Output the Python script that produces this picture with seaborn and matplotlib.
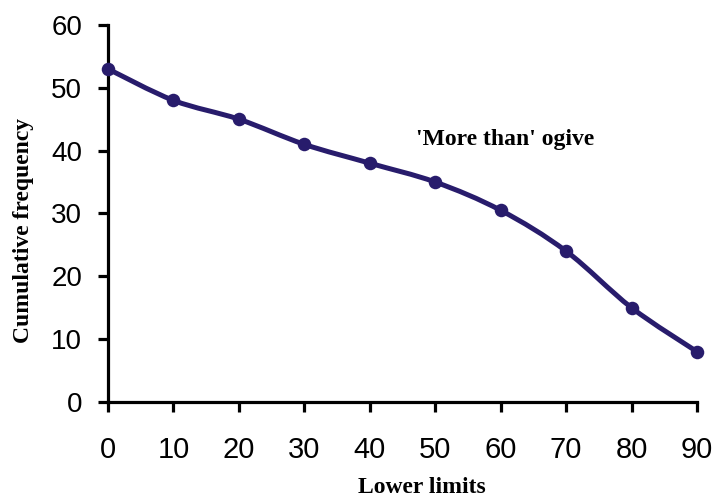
import matplotlib
matplotlib.use("Agg")
import matplotlib.pyplot as plt
from matplotlib.path import Path
from matplotlib.patches import PathPatch
import numpy as np
import pandas as pd
import seaborn as sns

# data
lower_limits = [0, 10, 20, 30, 40, 50, 60, 70, 80, 90]
cum_freq = [53, 48, 45, 41, 38, 35, 30.5, 24, 15, 8]
x_ticks = [0, 10, 20, 30, 40, 50, 60, 70, 80, 90]
y_ticks = [0, 10, 20, 30, 40, 50, 60]

df = pd.DataFrame({"lower": lower_limits, "cf": cum_freq})
line_col = "#281c6c"

sns.set_style("white")
plt.rcParams["font.family"] = ["Liberation Sans", "DejaVu Sans"]
plt.rcParams["text.color"] = "black"
plt.rcParams["axes.labelcolor"] = "black"
serif_bold = {"family": ["Liberation Serif", "DejaVu Serif"], "weight": "bold",
              "size": 17, "color": "black"}

fig = plt.figure(figsize=(7.13, 4.99), dpi=100)
ax = fig.add_axes([0.1515, 0.1944, 0.8261, 0.7556])

# smoothed line (catmull-rom style bezier through the points, like excel)
pts = df[["lower", "cf"]].to_numpy(dtype=float)
padded = np.vstack([pts[0], pts, pts[-1]])
verts = [tuple(pts[0])]
codes = [Path.MOVETO]
for i in range(len(pts) - 1):
    p0, p1, p2, p3 = padded[i], padded[i + 1], padded[i + 2], padded[i + 3]
    c1 = p1 + (p2 - p0) / 6.0
    c2 = p2 - (p3 - p1) / 6.0
    verts += [tuple(c1), tuple(c2), tuple(p2)]
    codes += [Path.CURVE4] * 3
patch = PathPatch(Path(verts, codes), fill=False, edgecolor=line_col, lw=3.6,
                  capstyle="round", joinstyle="round", clip_on=False, zorder=3)
ax.add_patch(patch)

sns.scatterplot(data=df, x="lower", y="cf", color=line_col, s=95, edgecolor=line_col,
                linewidth=0, zorder=4, clip_on=False, ax=ax)

ax.set_xlim(0, 90)
ax.set_ylim(0, 60)
ax.set_xticks(x_ticks)
ax.set_yticks(y_ticks)
ax.set_xticklabels([str(v) for v in x_ticks], fontsize=21)
ax.set_yticklabels([str(v) for v in y_ticks], fontsize=20)

sns.despine(ax=ax)
for s in ["left", "bottom"]:
    ax.spines[s].set_linewidth(2.3)
    ax.spines[s].set_color("black")
ax.tick_params(axis="both", which="major", direction="out", length=7.5, width=2.3,
               color="black", labelcolor="black", bottom=True, left=True)
ax.tick_params(axis="x", pad=17)
ax.tick_params(axis="y", pad=11)
ax.grid(False)

ax.set_xlabel("Lower limits", fontdict=serif_bold)
ax.set_ylabel("Cumulative frequency", fontdict=serif_bold)
ax.xaxis.set_label_coords(0.533, -0.228)
ax.yaxis.set_label_coords(-0.143, 0.454)
ax.xaxis.label.set_va("center")
ax.yaxis.label.set_va("center")

ax.text(0.674, 0.695, "'More than' ogive", transform=ax.transAxes,
        ha="center", va="center", fontdict=serif_bold)

fig.savefig("out.png", dpi=100)
